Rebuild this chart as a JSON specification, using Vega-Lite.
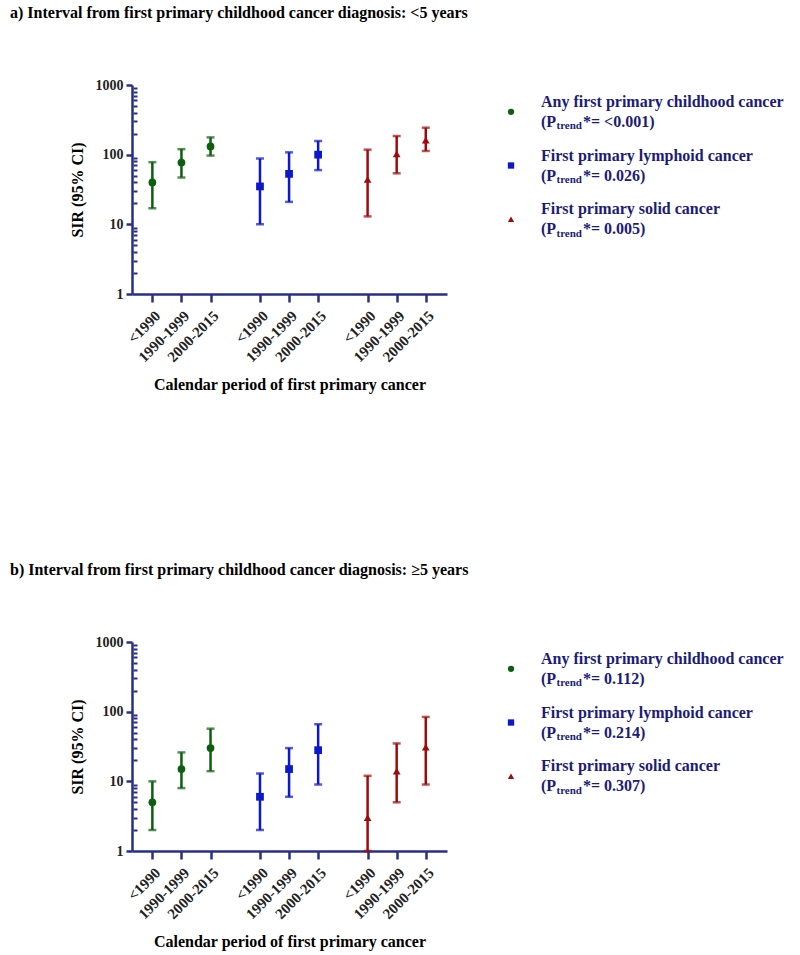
{
  "$schema": "https://vega.github.io/schema/vega-lite/v6.json",
  "padding": {"left": 10, "top": 5, "right": 5, "bottom": 5},
  "background": "white",
  "config": {
    "font": "Liberation Serif",
    "view": {"stroke": null},
    "axis": {
      "domainColor": "#2a2f86", "domainWidth": 2.5, "tickColor": "#2a2f86", "tickWidth": 2.5,
      "labelFont": "Liberation Serif", "labelFontWeight": "bold", "labelFontSize": 14, "labelColor": "#222222",
      "titleFont": "Liberation Serif", "titleFontWeight": "bold", "titleFontSize": 16, "titleColor": "#000000",
      "grid": false
    },
    "title": {"font": "Liberation Serif", "fontWeight": "bold", "fontSize": 16, "color": "#000000", "anchor": "start"}
  },
  "datasets": {
    "pts": [
      {"panel": "a", "group": "Any", "period": "<1990", "pos": 1, "sir": 40, "lo": 17, "hi": 78},
      {"panel": "a", "group": "Any", "period": "1990-1999", "pos": 2, "sir": 77, "lo": 47, "hi": 120},
      {"panel": "a", "group": "Any", "period": "2000-2015", "pos": 3, "sir": 131, "lo": 97, "hi": 177},
      {"panel": "a", "group": "Lymphoid", "period": "<1990", "pos": 4.7, "sir": 35, "lo": 10, "hi": 88},
      {"panel": "a", "group": "Lymphoid", "period": "1990-1999", "pos": 5.7, "sir": 53, "lo": 21, "hi": 108},
      {"panel": "a", "group": "Lymphoid", "period": "2000-2015", "pos": 6.7, "sir": 100, "lo": 60, "hi": 157},
      {"panel": "a", "group": "Solid", "period": "<1990", "pos": 8.4, "sir": 44, "lo": 13, "hi": 118},
      {"panel": "a", "group": "Solid", "period": "1990-1999", "pos": 9.4, "sir": 103, "lo": 54, "hi": 185},
      {"panel": "a", "group": "Solid", "period": "2000-2015", "pos": 10.4, "sir": 162, "lo": 113, "hi": 244},
      {"panel": "b", "group": "Any", "period": "<1990", "pos": 1, "sir": 5, "lo": 2, "hi": 10},
      {"panel": "b", "group": "Any", "period": "1990-1999", "pos": 2, "sir": 15, "lo": 8, "hi": 26},
      {"panel": "b", "group": "Any", "period": "2000-2015", "pos": 3, "sir": 30, "lo": 14, "hi": 57},
      {"panel": "b", "group": "Lymphoid", "period": "<1990", "pos": 4.7, "sir": 6, "lo": 2, "hi": 13},
      {"panel": "b", "group": "Lymphoid", "period": "1990-1999", "pos": 5.7, "sir": 15, "lo": 6, "hi": 30},
      {"panel": "b", "group": "Lymphoid", "period": "2000-2015", "pos": 6.7, "sir": 28, "lo": 9, "hi": 66},
      {"panel": "b", "group": "Solid", "period": "<1990", "pos": 8.4, "sir": 3, "lo": 1, "hi": 12},
      {"panel": "b", "group": "Solid", "period": "1990-1999", "pos": 9.4, "sir": 14, "lo": 5, "hi": 35},
      {"panel": "b", "group": "Solid", "period": "2000-2015", "pos": 10.4, "sir": 31, "lo": 9, "hi": 84}
    ],
    "leg": [
      {"panel": "a", "group": "Any", "name": "Any first primary childhood cancer", "pstr": "*= <0.001)"},
      {"panel": "a", "group": "Lymphoid", "name": "First primary lymphoid cancer", "pstr": "*= 0.026)"},
      {"panel": "a", "group": "Solid", "name": "First primary solid cancer", "pstr": "*= 0.005)"},
      {"panel": "b", "group": "Any", "name": "Any first primary childhood cancer", "pstr": "*= 0.112)"},
      {"panel": "b", "group": "Lymphoid", "name": "First primary lymphoid cancer", "pstr": "*= 0.214)"},
      {"panel": "b", "group": "Solid", "name": "First primary solid cancer", "pstr": "*= 0.307)"}
    ]
  },
  "spacing": 169,
  "vconcat": [
    {
      "title": {"text": "a) Interval from first primary childhood cancer diagnosis: <5 years", "offset": 57, "dx": -59},
      "bounds": "flush",
      "spacing": 64,
      "hconcat": [
        {
          "width": 315, "height": 209,
          "data": {"name": "pts"},
          "transform": [{"filter": "datum.panel == 'a'"}],
          "encoding": {
            "x": {"field": "pos", "type": "quantitative", "scale": {"domain": [0.3, 11.13], "nice": false, "zero": false},
              "axis": {"values": [1, 2, 3, 4.7, 5.7, 6.7, 8.4, 9.4, 10.4], "labelAngle": -45, "labelFontSize": 15, "tickSize": 8, "labelPadding": 6, "labelOverlap": false, "labelFlush": false,
                "labelExpr": "indexof([1,4.7,8.4], datum.value) >= 0 ? '<1990' : (indexof([2,5.7,9.4], datum.value) >= 0 ? '1990-1999' : '2000-2015')",
                "title": "Calendar period of first primary cancer", "titlePadding": 12}},
            "color": {"field": "group", "type": "nominal", "scale": {"domain": ["Any", "Lymphoid", "Solid"], "range": ["#0d5e0f", "#0c18cc", "#a00a0c"]}, "legend": null}
          },
          "resolve": {"axis": {"y": "independent"}},
          "layer": [
            {"mark": {"type": "rule", "strokeWidth": 2.5},
              "encoding": {
                "y": {"field": "lo", "type": "quantitative", "scale": {"type": "log", "domain": [1, 1000], "nice": false},
                  "axis": {"values": [1, 10, 100, 1000], "format": "d", "tickSize": 6, "labelPadding": 3, "title": "SIR (95% CI)", "titlePadding": 10}},
                "y2": {"field": "hi"}}},
            {"mark": {"type": "tick", "orient": "horizontal", "size": 8, "thickness": 2.5},
              "encoding": {"y": {"field": "lo", "type": "quantitative", "scale": {"type": "log", "domain": [1, 1000], "nice": false}, "axis": null}}},
            {"mark": {"type": "tick", "orient": "horizontal", "size": 8, "thickness": 2.5},
              "encoding": {"y": {"field": "hi", "type": "quantitative", "scale": {"type": "log", "domain": [1, 1000], "nice": false}, "axis": null}}},
            {"mark": {"type": "point", "filled": true, "opacity": 1, "size": 60},
              "encoding": {
                "y": {"field": "sir", "type": "quantitative", "scale": {"type": "log", "domain": [1, 1000], "nice": false},
                  "axis": {"orient": "left", "values": [2, 3, 4, 5, 6, 7, 8, 9, 20, 30, 40, 50, 60, 70, 80, 90, 200, 300, 400, 500, 600, 700, 800, 900], "labels": false, "domain": false, "tickSize": 4, "offset": -5, "tickWidth": 2, "title": null}},
                "shape": {"field": "group", "type": "nominal", "scale": {"domain": ["Any", "Lymphoid", "Solid"], "range": ["circle", "square", "triangle-up"]}, "legend": null}}}
          ]
        },
        {
          "width": 250, "height": 161,
          "data": {"name": "leg"},
          "transform": [{"filter": "datum.panel == 'a'"}],
          "encoding": {
            "y": {"field": "group", "type": "nominal", "scale": {"type": "point", "domain": ["Any", "Lymphoid", "Solid"], "padding": 0.5}, "axis": null},
            "x": {"datum": 0, "type": "quantitative", "scale": {"domain": [0, 1]}, "axis": null}
          },
          "layer": [
            {"mark": {"type": "point", "filled": true, "opacity": 1, "size": 40},
              "encoding": {
                "color": {"field": "group", "type": "nominal", "scale": {"domain": ["Any", "Lymphoid", "Solid"], "range": ["#0d5e0f", "#0c18cc", "#a00a0c"]}, "legend": null},
                "shape": {"field": "group", "type": "nominal", "scale": {"domain": ["Any", "Lymphoid", "Solid"], "range": ["circle", "square", "triangle-up"]}, "legend": null}}},
            {"mark": {"type": "text", "align": "left", "baseline": "alphabetic", "dx": 30, "dy": -5, "fontSize": 16, "fontWeight": "bold", "color": "#1c1c78"},
              "encoding": {"text": {"field": "name"}}},
            {"mark": {"type": "text", "align": "left", "baseline": "alphabetic", "dx": 30, "dy": 15, "fontSize": 16, "fontWeight": "bold", "color": "#1c1c78"},
              "encoding": {"text": {"value": "(P"}}},
            {"mark": {"type": "text", "align": "left", "baseline": "alphabetic", "dx": 45.5, "dy": 17.5, "fontSize": 11, "fontWeight": "bold", "color": "#1c1c78"},
              "encoding": {"text": {"value": "trend"}}},
            {"mark": {"type": "text", "align": "left", "baseline": "alphabetic", "dx": 72, "dy": 15, "fontSize": 16, "fontWeight": "bold", "color": "#1c1c78"},
              "encoding": {"text": {"field": "pstr"}}}
          ]
        }
      ]
    },
    {
      "title": {"text": "b) Interval from first primary childhood cancer diagnosis: ≥5 years", "offset": 57, "dx": -59},
      "bounds": "flush",
      "spacing": 64,
      "hconcat": [
        {
          "width": 315, "height": 209,
          "data": {"name": "pts"},
          "transform": [{"filter": "datum.panel == 'b'"}],
          "encoding": {
            "x": {"field": "pos", "type": "quantitative", "scale": {"domain": [0.3, 11.13], "nice": false, "zero": false},
              "axis": {"values": [1, 2, 3, 4.7, 5.7, 6.7, 8.4, 9.4, 10.4], "labelAngle": -45, "labelFontSize": 15, "tickSize": 8, "labelPadding": 6, "labelOverlap": false, "labelFlush": false,
                "labelExpr": "indexof([1,4.7,8.4], datum.value) >= 0 ? '<1990' : (indexof([2,5.7,9.4], datum.value) >= 0 ? '1990-1999' : '2000-2015')",
                "title": "Calendar period of first primary cancer", "titlePadding": 12}},
            "color": {"field": "group", "type": "nominal", "scale": {"domain": ["Any", "Lymphoid", "Solid"], "range": ["#0d5e0f", "#0c18cc", "#a00a0c"]}, "legend": null}
          },
          "resolve": {"axis": {"y": "independent"}},
          "layer": [
            {"mark": {"type": "rule", "strokeWidth": 2.5},
              "encoding": {
                "y": {"field": "lo", "type": "quantitative", "scale": {"type": "log", "domain": [1, 1000], "nice": false},
                  "axis": {"values": [1, 10, 100, 1000], "format": "d", "tickSize": 6, "labelPadding": 3, "title": "SIR (95% CI)", "titlePadding": 10}},
                "y2": {"field": "hi"}}},
            {"mark": {"type": "tick", "orient": "horizontal", "size": 8, "thickness": 2.5},
              "encoding": {"y": {"field": "lo", "type": "quantitative", "scale": {"type": "log", "domain": [1, 1000], "nice": false}, "axis": null}}},
            {"mark": {"type": "tick", "orient": "horizontal", "size": 8, "thickness": 2.5},
              "encoding": {"y": {"field": "hi", "type": "quantitative", "scale": {"type": "log", "domain": [1, 1000], "nice": false}, "axis": null}}},
            {"mark": {"type": "point", "filled": true, "opacity": 1, "size": 60},
              "encoding": {
                "y": {"field": "sir", "type": "quantitative", "scale": {"type": "log", "domain": [1, 1000], "nice": false},
                  "axis": {"orient": "left", "values": [2, 3, 4, 5, 6, 7, 8, 9, 20, 30, 40, 50, 60, 70, 80, 90, 200, 300, 400, 500, 600, 700, 800, 900], "labels": false, "domain": false, "tickSize": 4, "offset": -5, "tickWidth": 2, "title": null}},
                "shape": {"field": "group", "type": "nominal", "scale": {"domain": ["Any", "Lymphoid", "Solid"], "range": ["circle", "square", "triangle-up"]}, "legend": null}}}
          ]
        },
        {
          "width": 250, "height": 161,
          "data": {"name": "leg"},
          "transform": [{"filter": "datum.panel == 'b'"}],
          "encoding": {
            "y": {"field": "group", "type": "nominal", "scale": {"type": "point", "domain": ["Any", "Lymphoid", "Solid"], "padding": 0.5}, "axis": null},
            "x": {"datum": 0, "type": "quantitative", "scale": {"domain": [0, 1]}, "axis": null}
          },
          "layer": [
            {"mark": {"type": "point", "filled": true, "opacity": 1, "size": 40},
              "encoding": {
                "color": {"field": "group", "type": "nominal", "scale": {"domain": ["Any", "Lymphoid", "Solid"], "range": ["#0d5e0f", "#0c18cc", "#a00a0c"]}, "legend": null},
                "shape": {"field": "group", "type": "nominal", "scale": {"domain": ["Any", "Lymphoid", "Solid"], "range": ["circle", "square", "triangle-up"]}, "legend": null}}},
            {"mark": {"type": "text", "align": "left", "baseline": "alphabetic", "dx": 30, "dy": -5, "fontSize": 16, "fontWeight": "bold", "color": "#1c1c78"},
              "encoding": {"text": {"field": "name"}}},
            {"mark": {"type": "text", "align": "left", "baseline": "alphabetic", "dx": 30, "dy": 15, "fontSize": 16, "fontWeight": "bold", "color": "#1c1c78"},
              "encoding": {"text": {"value": "(P"}}},
            {"mark": {"type": "text", "align": "left", "baseline": "alphabetic", "dx": 45.5, "dy": 17.5, "fontSize": 11, "fontWeight": "bold", "color": "#1c1c78"},
              "encoding": {"text": {"value": "trend"}}},
            {"mark": {"type": "text", "align": "left", "baseline": "alphabetic", "dx": 72, "dy": 15, "fontSize": 16, "fontWeight": "bold", "color": "#1c1c78"},
              "encoding": {"text": {"field": "pstr"}}}
          ]
        }
      ]
    }
  ]
}
